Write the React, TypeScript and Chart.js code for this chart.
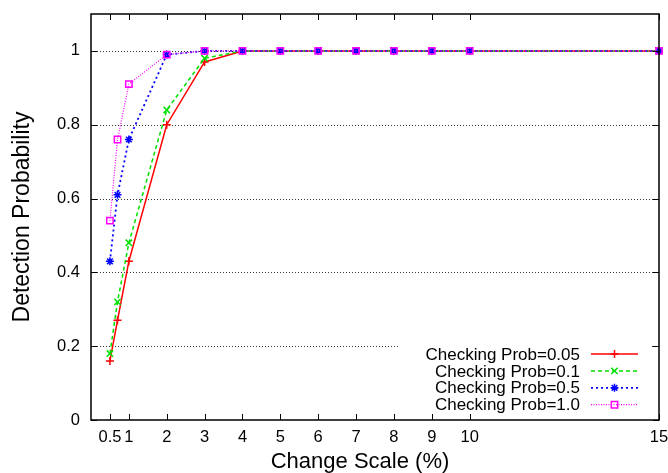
import React, { useEffect, useRef } from "react";
import { Chart, registerables } from "chart.js";

Chart.register(...registerables);

const xValues = [0.5, 0.7, 1, 2, 3, 4, 5, 6, 7, 8, 9, 10, 15];
const prob005 = [0.16, 0.27, 0.43, 0.8, 0.97, 1, 1, 1, 1, 1, 1, 1, 1];
const prob01 = [0.18, 0.32, 0.48, 0.84, 0.98, 1, 1, 1, 1, 1, 1, 1, 1];
const prob05 = [0.43, 0.61, 0.76, 0.99, 1, 1, 1, 1, 1, 1, 1, 1, 1];
const prob10 = [0.54, 0.76, 0.91, 0.99, 1, 1, 1, 1, 1, 1, 1, 1, 1];
const seriesLabels = [
  "Checking Prob=0.05",
  "Checking Prob=0.1",
  "Checking Prob=0.5",
  "Checking Prob=1.0",
];
const xTicks = [0.5, 1, 2, 3, 4, 5, 6, 7, 8, 9, 10, 15];
const yTicks = [0, 0.2, 0.4, 0.6, 0.8, 1];
const xTitle = "Change Scale (%)";
const yTitle = "Detection Probability";

const FONT = "'Liberation Sans', Arial, Helvetica, sans-serif";

const styles = [
  { color: "#ff0000", dash: [] as number[], width: 1.5, point: "cross", r: 4 },
  { color: "#00e000", dash: [4, 3], width: 1.5, point: "crossRot", r: 4.5 },
  { color: "#0000ff", dash: [2, 3], width: 1.8, point: "star", r: 4 },
  { color: "#ff00ff", dash: [1, 1.5], width: 1.2, point: "rect", r: 4.5 },
];

function drawMarker(ctx: CanvasRenderingContext2D, style: string, x: number, y: number, r: number) {
  ctx.beginPath();
  if (style === "cross" || style === "star") {
    ctx.moveTo(x - r, y);
    ctx.lineTo(x + r, y);
    ctx.moveTo(x, y - r);
    ctx.lineTo(x, y + r);
  }
  if (style === "crossRot" || style === "star") {
    const d = r * Math.SQRT1_2;
    ctx.moveTo(x - d, y - d);
    ctx.lineTo(x + d, y + d);
    ctx.moveTo(x - d, y + d);
    ctx.lineTo(x + d, y - d);
  }
  if (style === "rect") {
    const s = r * Math.SQRT1_2;
    ctx.rect(x - s, y - s, 2 * s, 2 * s);
  }
  ctx.stroke();
}

function zeroPad(s: any) {
  s.paddingLeft = 0;
  s.paddingRight = 0;
  s.paddingTop = 0;
  s.paddingBottom = 0;
}

const framePlugin = {
  id: "gnuFrame",
  beforeDatasetsDraw(chart: any) {
    const { ctx, chartArea } = chart;
    const { left, right } = chartArea;
    const y = chart.scales.y;
    ctx.save();
    ctx.strokeStyle = "#000";
    ctx.lineWidth = 0.8;
    ctx.setLineDash([1, 2]);
    for (const v of yTicks) {
      if (v === 0) continue;
      const py = Math.round(y.getPixelForValue(v)) + 0.5;
      ctx.beginPath();
      ctx.moveTo(left, py);
      ctx.lineTo(right, py);
      ctx.stroke();
    }
    ctx.restore();
  },
  afterDatasetsDraw(chart: any) {
    const { ctx, chartArea } = chart;
    const { left, right, top, bottom } = chartArea;
    const x = chart.scales.x;
    const y = chart.scales.y;
    ctx.save();
    // legend box
    ctx.fillStyle = "#fff";
    ctx.fillRect(398, 340, 252, 74);
    ctx.font = `17px ${FONT}`;
    ctx.textAlign = "right";
    ctx.textBaseline = "middle";
    for (let i = 0; i < seriesLabels.length; i++) {
      const cy = 354 + i * 16.9;
      const st = styles[i];
      ctx.fillStyle = "#000";
      ctx.fillText(seriesLabels[i], 580, cy + 1);
      ctx.strokeStyle = st.color;
      ctx.lineWidth = st.width;
      ctx.setLineDash(st.dash);
      ctx.beginPath();
      ctx.moveTo(591, cy);
      ctx.lineTo(638, cy);
      ctx.stroke();
      ctx.setLineDash([]);
      ctx.lineWidth = 1.5;
      drawMarker(ctx, st.point, 614.5, cy, st.r);
    }
    // border
    ctx.setLineDash([]);
    ctx.strokeStyle = "#000";
    ctx.lineWidth = 1.5;
    ctx.strokeRect(left, top, right - left, bottom - top);
    ctx.lineWidth = 1;
    const tl = 6;
    ctx.beginPath();
    for (const v of xTicks) {
      const px = Math.round(x.getPixelForValue(v)) + 0.5;
      ctx.moveTo(px, bottom);
      ctx.lineTo(px, bottom - tl);
      ctx.moveTo(px, top);
      ctx.lineTo(px, top + tl);
    }
    for (const v of yTicks) {
      const py = Math.round(y.getPixelForValue(v)) + 0.5;
      ctx.moveTo(left, py);
      ctx.lineTo(left + tl, py);
      ctx.moveTo(right, py);
      ctx.lineTo(right - tl, py);
    }
    ctx.stroke();
    ctx.restore();
  },
  afterDraw(chart: any) {
    const { ctx, chartArea } = chart;
    ctx.save();
    ctx.fillStyle = "#000";
    ctx.font = `22px ${FONT}`;
    ctx.textAlign = "center";
    ctx.textBaseline = "alphabetic";
    ctx.fillText(xTitle, 360, 467.5);
    ctx.translate(28.5, (chartArea.top + chartArea.bottom) / 2);
    ctx.rotate(-Math.PI / 2);
    ctx.font = `23px ${FONT}`;
    ctx.fillText(yTitle, 0, 0);
    ctx.restore();
  },
};

export default function App() {
  const ref = useRef<HTMLCanvasElement | null>(null);
  useEffect(() => {
    if (!ref.current) return;
    const seriesData = [prob005, prob01, prob05, prob10];
    const chart = new Chart(ref.current, {
      type: "line",
      data: {
        datasets: seriesData.map((vals, i) => ({
          label: seriesLabels[i],
          data: xValues.map((xv, j) => ({ x: xv, y: vals[j] })),
          borderColor: styles[i].color,
          backgroundColor: "rgba(0,0,0,0)",
          borderWidth: styles[i].width,
          borderDash: styles[i].dash,
          pointStyle: styles[i].point as any,
          pointRadius: styles[i].r,
          pointBorderWidth: 1.5,
          pointBorderColor: styles[i].color,
          pointBackgroundColor: "rgba(0,0,0,0)",
          tension: 0,
          fill: false,
          clip: false as any,
          order: 3 - i,
        })),
      },
      options: {
        animation: false,
        responsive: false,
        devicePixelRatio: 1,
        layout: { padding: { top: 14, right: 9, left: 0, bottom: 0 } },
        plugins: { legend: { display: false }, tooltip: { enabled: false } },
        font: { family: FONT } as any,
        scales: {
          x: {
            type: "linear",
            min: 0,
            max: 15,
            grid: { display: false, drawTicks: false },
            border: { display: false },
            afterBuildTicks: (s: any) => {
              s.ticks = xTicks.map((v) => ({ value: v }));
            },
            afterFit: (s: any) => {
              s.height = 53;
              zeroPad(s);
            },
            ticks: {
              autoSkip: false,
              maxRotation: 0,
              padding: 8,
              color: "#000",
              font: { family: FONT, size: 16.5 },
              callback: (v: any) => String(v),
            },
          },
          y: {
            type: "linear",
            min: 0,
            max: 1.1,
            grid: { display: false, drawTicks: false },
            border: { display: false },
            afterBuildTicks: (s: any) => {
              s.ticks = yTicks.map((v) => ({ value: v }));
            },
            afterFit: (s: any) => {
              s.width = 91;
              zeroPad(s);
            },
            ticks: {
              autoSkip: false,
              padding: 11,
              color: "#000",
              font: { family: FONT, size: 16.5 },
              callback: (v: any) => String(Math.round(v * 10) / 10),
            },
          },
        },
      },
      plugins: [framePlugin],
    });
    return () => chart.destroy();
  }, []);
  return (
    <div style={{ position: "fixed", left: 0, top: 0, width: 668, height: 473, background: "#fff" }}>
      <canvas ref={ref} width={668} height={473} style={{ display: "block" }} />
    </div>
  );
}
